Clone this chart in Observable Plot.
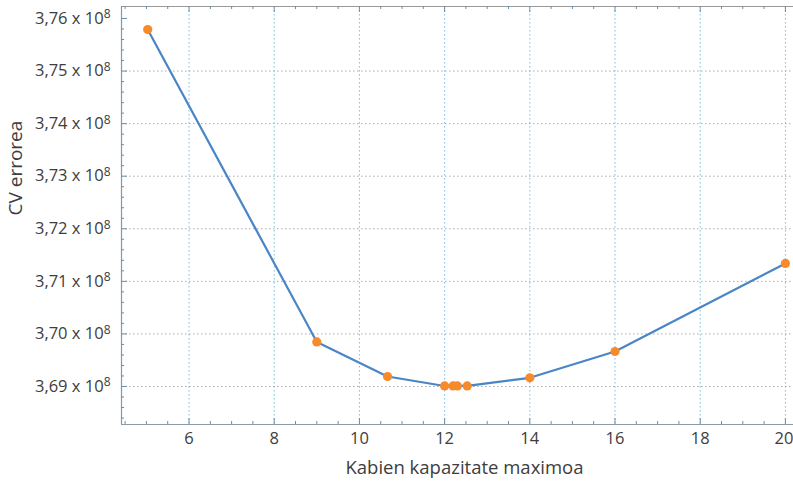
<!DOCTYPE html>
<html>
<head>
<meta charset="utf-8">
<script src="https://cdn.jsdelivr.net/npm/d3@7"></script>
<script src="https://cdn.jsdelivr.net/npm/@observablehq/plot@0.6"></script>
<style>
  html, body { margin: 0; padding: 0; background: #fff; }
  #chart svg { display: block; }
</style>
</head>
<body>
<div id="chart"></div>
<script>
// Data
const capacity = [5.03, 9.0, 10.66, 12.0, 12.2, 12.3, 12.53, 14.0, 16.0, 20.0];
const cvError  = [375790000, 369848000, 369190000, 369010000, 369010000, 369010000, 369010000, 369165000, 369666000, 371340000];

// Axis definitions
const xDomain = [4.415, 20.19];
const yDomain = [368277000, 376228000];
const xMajor = [6, 8, 10, 12, 14, 16, 18, 20];
const xLabelTicks = [6, 8, 10, 12, 14, 16, 18];
const xEdgeTick = [20];
const xMinor = d3.range(4.5, 20.01, 0.5).filter(v => !xMajor.includes(v));
const yMajor = [369000000, 370000000, 371000000, 372000000, 373000000, 374000000, 375000000, 376000000];
const yGrid  = [369000000, 370000000, 371000000, 372000000, 373000000, 374000000, 375000000];
const yMinor = d3.range(368400000, 376200000, 200000).filter(v => v % 1000000 !== 0);
const xLabel = "Kabien kapazitate maximoa";
const yLabel = "CV errorea";

const data = capacity.map((c, i) => ({c, v: cvError[i]}));

const W = 793, H = 488, mL = 121, mR = 0, mT = 6, mB = 64;
const pw = W - mL - mR, ph = H - mT - mB;
const font = "'Open Sans', 'Noto Sans', sans-serif";
const txt = "#3d3d3d";

const chart = Plot.plot({
  width: W, height: H,
  marginLeft: mL, marginRight: mR, marginTop: mT, marginBottom: mB,
  style: {fontFamily: font, background: "#fff", color: txt},
  x: {domain: xDomain, axis: null},
  y: {domain: yDomain, axis: null},
  marks: [
    Plot.gridX(xMajor, {stroke: "#6fb7dd", strokeOpacity: 0.9, strokeDasharray: "1.5,2.5"}),
    Plot.gridY(yGrid, {stroke: "#a09a9a", strokeOpacity: 0.85, strokeDasharray: "1.5,2.5"}),
    // frame lines
    Plot.ruleY([yDomain[0]], {stroke: "#8e9aa4", strokeWidth: 1.2}),
    Plot.ruleY([yDomain[1]], {stroke: "#9a9a9a", strokeWidth: 1.2}),
    Plot.ruleX([xDomain[0]], {stroke: "#7d9bb2", strokeWidth: 1.2}),
    // inward ticks
    Plot.tickX(xMajor, {x: d => d, insetTop: ph - 6, stroke: "#6f8da3"}),
    Plot.tickX(xMinor, {x: d => d, insetTop: ph - 3, stroke: "#6f8da3"}),
    Plot.tickX(xMajor, {x: d => d, insetBottom: ph - 6, stroke: "#6f8da3"}),
    Plot.tickX(xMinor, {x: d => d, insetBottom: ph - 3, stroke: "#6f8da3"}),
    Plot.tickY(yMajor, {y: d => d, insetRight: pw - 6, stroke: "#6f8da3"}),
    Plot.tickY(yMinor, {y: d => d, insetRight: pw - 3, stroke: "#6f8da3"}),
    // series
    Plot.line(data, {x: "c", y: "v", stroke: "#4a86c5", strokeWidth: 2.2}),
    Plot.dot(data, {x: "c", y: "v", r: 4.6, fill: "#f78a2a", stroke: "none"}),
    // tick labels
    Plot.axisX(xLabelTicks, {anchor: "bottom", tickSize: 0, tickPadding: 8, fontSize: 16.5, fill: txt, label: null, tickFormat: d => String(d)}),
    Plot.axisX(xEdgeTick, {anchor: "bottom", tickSize: 0, tickPadding: 8, fontSize: 16.5, fill: txt, label: null, textAnchor: "end", dx: 8, tickFormat: d => String(d)}),
    Plot.axisY(yMajor, {anchor: "left", tickSize: 0, tickPadding: 11, fontSize: 16.5, fill: txt, label: null,
      tickFormat: d => (d / 1e8).toFixed(2).replace(".", ",") + " x 10^8"}),
    // axis titles
    Plot.text([xLabel], {text: d => d, frameAnchor: "bottom", dy: 49, dx: 7, fontSize: 18.5, fill: txt}),
    Plot.text([yLabel], {text: d => d, frameAnchor: "left", rotate: -90, dx: -106, fontSize: 19, fill: txt})
  ]
});

// render the exponent as a real superscript
d3.select(chart).selectAll("text").each(function() {
  const t = this.textContent;
  if (t.endsWith(" x 10^8")) {
    const base = t.replace("^8", "");
    const el = d3.select(this);
    el.text(null);
    el.append("tspan").text(base);
    el.append("tspan").attr("dy", "-0.45em").attr("font-size", "12").text("8");
  }
});

document.getElementById("chart").appendChild(chart);
</script>
</body>
</html>
